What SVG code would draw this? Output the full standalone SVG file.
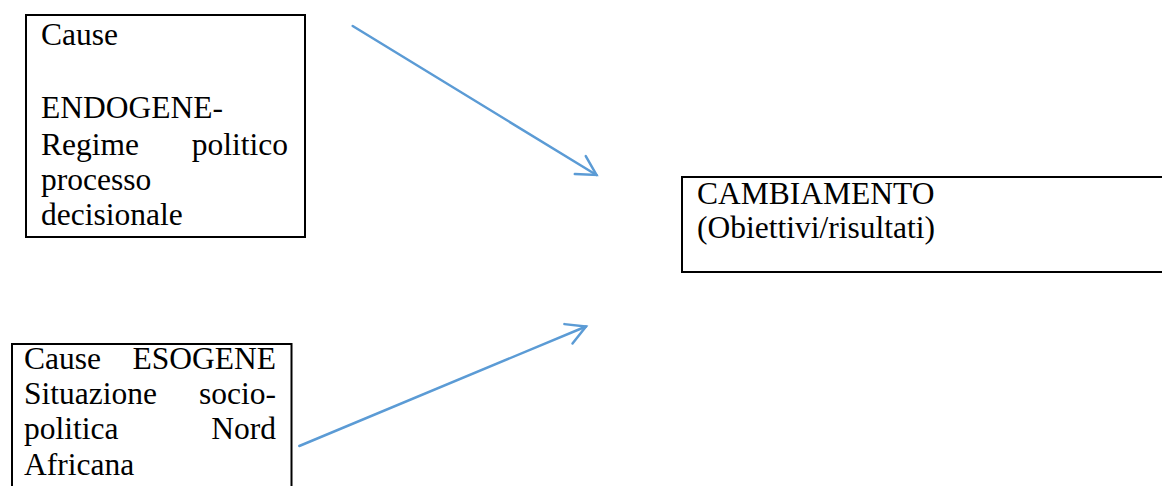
<svg xmlns="http://www.w3.org/2000/svg" width="1162" height="486" viewBox="0 0 1162 486">
  <style>
    .box { fill: #ffffff; stroke: #000000; stroke-width: 2; }
    .t { font-family: "Liberation Serif", "Times New Roman", serif; font-size: 31.5px; fill: #000000; }
    .conn { fill: none; stroke: #5B9BD5; stroke-width: 2.5; stroke-linecap: round; }
  </style>
  <defs>
    <marker id="open" markerUnits="userSpaceOnUse" markerWidth="26" markerHeight="26" viewBox="0 0 26 26" refX="22" refY="13" orient="auto">
      <path d="M3,2.5 L22,13 L3,23.5" fill="none" stroke="#5B9BD5" stroke-width="2.5" stroke-linecap="round" stroke-linejoin="miter"/>
    </marker>
  </defs>
  <rect width="1162" height="486" fill="#ffffff"/>

  <g id="endogene">
    <rect class="box" x="26" y="15" width="279" height="222"/>
    <text class="t" x="41" y="45">Cause</text>
    <text class="t" x="41" y="118">ENDOGENE-</text>
    <text class="t" x="41" y="155">Regime</text>
    <text class="t" x="288" y="155" text-anchor="end">politico</text>
    <text class="t" x="41" y="190">processo</text>
    <text class="t" x="41" y="225">decisionale</text>
  </g>

  <g id="cambiamento">
    <rect class="box" x="682" y="177" width="500" height="95"/>
    <text class="t" x="697" y="204">CAMBIAMENTO</text>
    <text class="t" x="697" y="238">(Obiettivi/risultati)</text>
  </g>

  <g id="esogene">
    <rect class="box" x="12" y="344" width="279.5" height="160"/>
    <text class="t" x="24" y="369">Cause</text>
    <text class="t" x="276" y="369" text-anchor="end">ESOGENE</text>
    <text class="t" x="24" y="404">Situazione</text>
    <text class="t" x="276" y="404" text-anchor="end">socio-</text>
    <text class="t" x="24" y="439">politica</text>
    <text class="t" x="276" y="439" text-anchor="end">Nord</text>
    <text class="t" x="24" y="475">Africana</text>
  </g>

  <g id="connectors">
    <line class="conn" x1="352.7" y1="26" x2="596.5" y2="175" marker-end="url(#open)"/>
    <line class="conn" x1="299.3" y1="446" x2="586" y2="326.5" marker-end="url(#open)"/>
  </g>
</svg>
